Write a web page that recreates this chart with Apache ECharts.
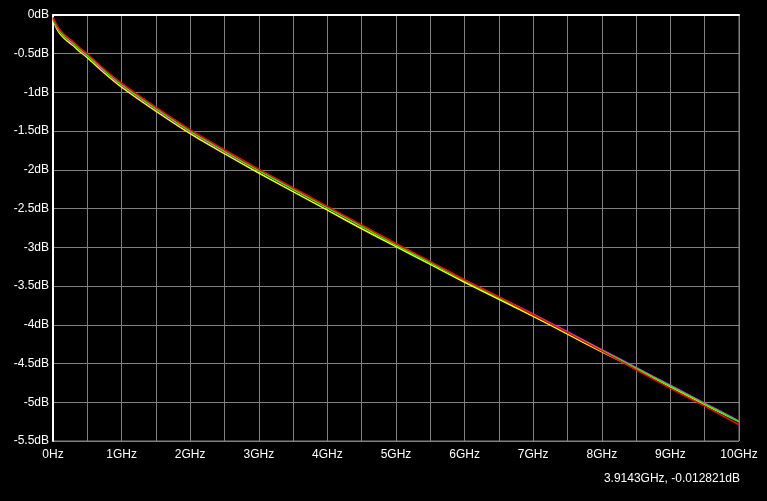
<!DOCTYPE html>
<html>
<head>
<meta charset="utf-8">
<script src="https://cdn.jsdelivr.net/npm/echarts@6/dist/echarts.min.js"></script>
<style>
html,body{margin:0;padding:0;background:#000;}
#chart{width:767px;height:501px;}
</style>
</head>
<body>
<div id="chart"></div>
<script>
// Frequency in GHz
var freq = [0, 0.05, 0.1, 0.15, 0.2, 0.3, 0.4, 0.5, 0.75, 1, 1.5, 2, 2.5, 3, 3.5, 4, 4.5, 5, 5.5, 6, 6.5, 7, 7.5, 8, 8.5, 9, 9.5, 10];
// Insertion loss in dB
var seriesRed     = [-0.03, -0.12, -0.19, -0.24, -0.28, -0.35, -0.43, -0.50, -0.70, -0.88, -1.19, -1.48, -1.74, -1.99, -2.23, -2.47, -2.71, -2.95, -3.18, -3.42, -3.64, -3.87, -4.10, -4.34, -4.58, -4.82, -5.05, -5.29];
var seriesGreen   = [-0.04, -0.14, -0.21, -0.26, -0.30, -0.37, -0.45, -0.52, -0.72, -0.90, -1.21, -1.50, -1.76, -2.01, -2.25, -2.49, -2.73, -2.97, -3.20, -3.43, -3.65, -3.87, -4.10, -4.33, -4.56, -4.79, -5.02, -5.25];
var seriesMagenta = [-0.05, -0.15, -0.22, -0.27, -0.31, -0.38, -0.46, -0.53, -0.73, -0.91, -1.22, -1.51, -1.77, -2.01, -2.25, -2.49, -2.73, -2.96, -3.19, -3.42, -3.64, -3.86, -4.09, -4.32, -4.55, -4.78, -5.01, -5.24];
var seriesYellow  = [-0.06, -0.17, -0.24, -0.29, -0.33, -0.40, -0.48, -0.55, -0.75, -0.93, -1.24, -1.53, -1.79, -2.04, -2.28, -2.52, -2.76, -2.99, -3.22, -3.45, -3.67, -3.89, -4.12, -4.35, -4.57, -4.80, -5.03, -5.25];
var xTickLabels = ['0Hz','1GHz','2GHz','3GHz','4GHz','5GHz','6GHz','7GHz','8GHz','9GHz','10GHz'];
var cursorText = '3.9143GHz, -0.012821dB';

function pairs(ys){ return freq.map(function(f,i){ return [f, ys[i]]; }); }

var font = 'Liberation Sans, Arial, sans-serif';
var chart = echarts.init(document.getElementById('chart'));
function mkSeries(name, color, ys){
  return {name:name, type:'line', data:pairs(ys), smooth:0.3, showSymbol:false, symbol:'none',
    lineStyle:{color:color, width:1.5}, itemStyle:{color:color}, animation:false};
}
chart.setOption({
  backgroundColor:'#000000',
  animation:false,
  grid:{left:53, right:28, top:15, bottom:60, show:true, borderColor:'#808080', borderWidth:1},
  xAxis:[{
    type:'value', min:0, max:10, interval:0.5, position:'bottom',
    axisLine:{show:true, lineStyle:{color:'#808080', width:1}},
    axisTick:{show:false},
    splitLine:{show:true, lineStyle:{color:'#808080', width:1}},
    axisLabel:{color:'#ffffff', fontFamily:font, fontSize:12, margin:8, interval:0,
      formatter:function(v){ if (Math.abs(v-Math.round(v))>1e-6) return ''; return xTickLabels[Math.round(v)]; }}
  },{
    type:'value', min:0, max:10, position:'top',
    axisLine:{show:true, onZero:false, lineStyle:{color:'#ffffff', width:2}},
    axisTick:{show:false}, axisLabel:{show:false}, splitLine:{show:false}
  }],
  yAxis:{
    type:'value', min:-5.5, max:0, interval:0.5,
    axisLine:{show:true, onZero:false, lineStyle:{color:'#ffffff', width:2}},
    axisTick:{show:false},
    splitLine:{show:true, lineStyle:{color:'#808080', width:1}},
    axisLabel:{color:'#ffffff', fontFamily:font, fontSize:12, margin:4,
      formatter:function(v){ return (Math.round(v*10)/10) + 'dB'; }}
  },
  graphic:[{type:'text', right:27, top:473, style:{text:cursorText, fill:'#ffffff', font:'12px '+font}}],
  series:[
    mkSeries('Yellow','#ffff00',seriesYellow),
    mkSeries('Magenta','#ff00ff',seriesMagenta),
    mkSeries('Green','#00ff00',seriesGreen),
    mkSeries('Red','#ff0000',seriesRed)
  ]
});
</script>
</body>
</html>
